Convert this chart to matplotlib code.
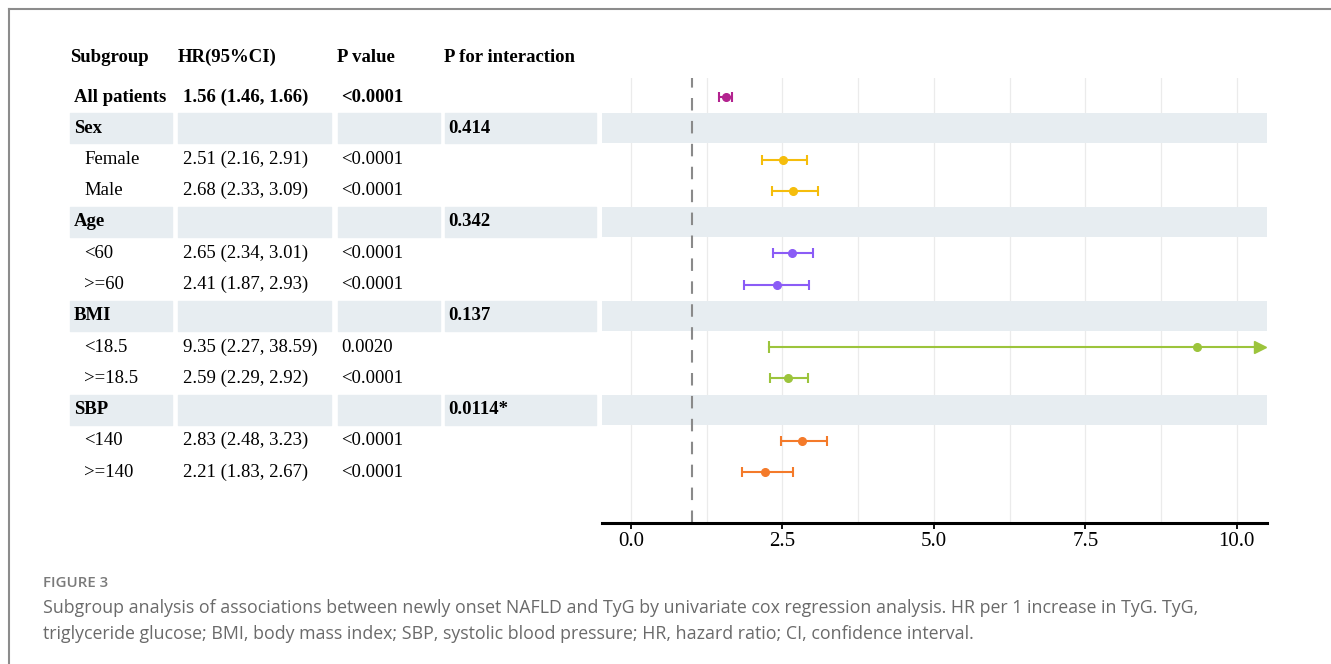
import numpy as np
import matplotlib.pyplot as plt
from matplotlib.lines import Line2D

# data
subgroups = ["All patients", "Sex", "Female", "Male", "Age", "<60", ">=60",
             "BMI", "<18.5", ">=18.5", "SBP", "<140", ">=140"]
is_group = [False, True, False, False, True, False, False,
            True, False, False, True, False, False]
hr = [1.56, np.nan, 2.51, 2.68, np.nan, 2.65, 2.41,
      np.nan, 9.35, 2.59, np.nan, 2.83, 2.21]
lo = [1.46, np.nan, 2.16, 2.33, np.nan, 2.34, 1.87,
      np.nan, 2.27, 2.29, np.nan, 2.48, 1.83]
hi = [1.66, np.nan, 2.91, 3.09, np.nan, 3.01, 2.93,
      np.nan, 38.59, 2.92, np.nan, 3.23, 2.67]
p_value = ["<0.0001", "", "<0.0001", "<0.0001", "", "<0.0001", "<0.0001",
           "", "0.0020", "<0.0001", "", "<0.0001", "<0.0001"]
p_inter = ["", "0.414", "", "", "0.342", "", "",
           "0.137", "", "", "0.0114*", "", ""]
row_colors = ["#b3238f", None, "#f5bd0c", "#f5bd0c", None, "#8b5cf6", "#8b5cf6",
              None, "#9cc43c", "#9cc43c", None, "#f47a2a", "#f47a2a"]
headers = ["Subgroup", "HR(95%CI)", "P value", "P for interaction"]
xticks = [0.0, 2.5, 5.0, 7.5, 10.0]

W, H = 1331, 664
band = "#e7edf1"
serif = "Liberation Serif"

fig = plt.figure(figsize=(W / 100, H / 100), dpi=100)

# row i sits at pixel 97 + 31.25*i
def row_of(py):
    return (py - 97) / 31.25

# table part
tax = fig.add_axes([0, 1 - 522.5 / H, 600 / W, (522.5 - 40) / H])
tax.set_xlim(0, 600)
tax.set_ylim(row_of(522.5), row_of(40))
tax.axis("off")

col_x = [70, 178, 337, 444]
col_bands = [(70, 102), (178, 153), (338, 102), (445, 151)]
for j, h in enumerate(headers):
    tax.text(col_x[j], -1.28, h, fontsize=13.5, family=serif, weight="bold",
             va="center", ha="left")

n = len(subgroups)
for i in range(n):
    if is_group[i]:
        tax.broken_barh(col_bands, (i - 0.48, 0.96), color=band, zorder=0)
    bold = is_group[i] or i == 0
    w = "bold" if bold else "normal"
    ind = 74 if bold else 84
    tax.text(ind, i, subgroups[i], fontsize=13.5, family=serif, weight=w, va="center")
    if not np.isnan(hr[i]):
        tax.text(183, i, f"{hr[i]:.2f} ({lo[i]:.2f}, {hi[i]:.2f})", fontsize=13.5,
                 family=serif, weight=w, va="center")
    tax.text(341, i, p_value[i], fontsize=13.5, family=serif, weight=w, va="center")
    tax.text(448, i, p_inter[i], fontsize=13.5, family=serif, weight="bold", va="center")

# forest part
ax = fig.add_axes([602 / W, 1 - 522.5 / H, (1267 - 602) / W, (522.5 - 78) / H])
xmin, xmax = -0.48, 10.5
ax.set_xlim(xmin, xmax)
ax.set_ylim(row_of(522.5), row_of(78))

for g in np.arange(0, 10.01, 1.25):
    ax.axvline(g, color="#ebebeb", lw=0.9, zorder=0)
for i in range(n):
    if is_group[i]:
        ax.axhspan(i - 0.48, i + 0.48, color=band, lw=0, zorder=1)
ax.axvline(1, color="#8a8a8a", lw=1.5, dashes=(6, 5), zorder=2)

for i in range(n):
    if np.isnan(hr[i]):
        continue
    c = row_colors[i]
    if hi[i] > xmax:
        ax.plot([lo[i], xmax - 0.12], [i, i], color=c, lw=1.5, zorder=3)
        ax.plot(lo[i], i, marker="|", ms=8, mew=1.5, color=c, zorder=3)
        ax.plot(xmax - 0.12, i, marker=">", ms=8, color=c, clip_on=False, zorder=3)
        ax.plot(hr[i], i, "o", ms=5.5, color=c, zorder=4)
    else:
        ax.errorbar(hr[i], i, xerr=[[hr[i] - lo[i]], [hi[i] - hr[i]]], fmt="o",
                    ms=5.5, color=c, ecolor=c, elinewidth=1.5, capsize=3.6,
                    capthick=1.5, zorder=3)

for s in ["top", "right", "left"]:
    ax.spines[s].set_visible(False)
ax.spines["bottom"].set_linewidth(2.2)
ax.set_yticks([])
ax.set_xticks(xticks)
ax.set_xticklabels([f"{t:.1f}" for t in xticks], family=serif, fontsize=15)
ax.tick_params(axis="x", length=4, width=1.3, pad=3)

# frame and caption
fig.add_artist(Line2D([9 / W, 1], [1 - 9 / H, 1 - 9 / H], color="#8c8c8c", lw=1.5))
fig.add_artist(Line2D([9 / W, 9 / W], [0, 1 - 9 / H], color="#8c8c8c", lw=1.5))

fig.text(43 / W, 1 - 583 / H, "FIGURE 3", fontsize=10.8, color="#7a7a7a",
         weight="semibold", family="Open Sans", va="center")
fig.text(43 / W, 1 - 608 / H,
         "Subgroup analysis of associations between newly onset NAFLD and TyG by univariate "
         "cox regression analysis. HR per 1 increase in TyG. TyG,",
         fontsize=12.8, color="#6a6a6a", family="Open Sans", va="center")
fig.text(43 / W, 1 - 634 / H,
         "triglyceride glucose; BMI, body mass index; SBP, systolic blood pressure; HR, "
         "hazard ratio; CI, confidence interval.",
         fontsize=12.8, color="#6a6a6a", family="Open Sans", va="center")

fig.savefig("out.png", dpi=100)
